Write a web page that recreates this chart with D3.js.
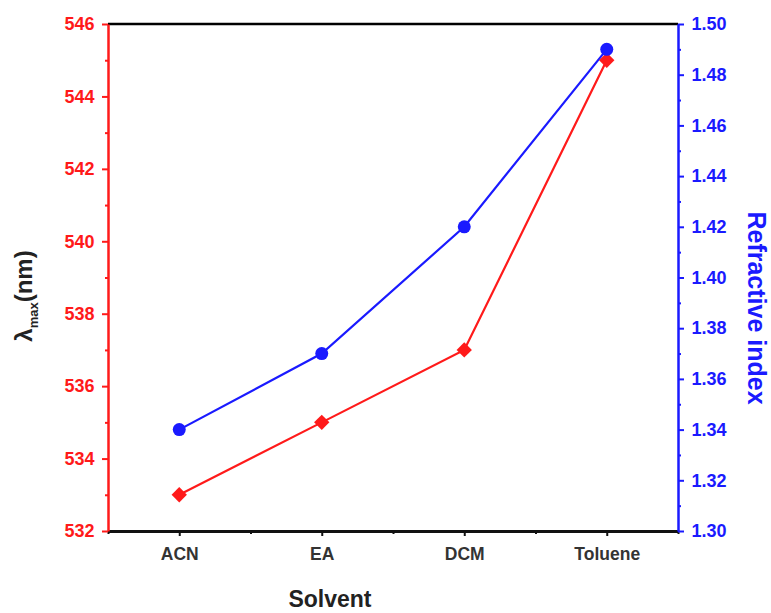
<!DOCTYPE html>
<html><head><meta charset="utf-8">
<script src="https://cdn.jsdelivr.net/npm/d3@7"></script>
<style>body{margin:0;background:#fff}svg{display:block;font-family:"Liberation Sans",Arial,sans-serif}</style>
</head><body><svg id="c" width="771" height="613"></svg>
<script>
const categories = ["ACN","EA","DCM","Toluene"];
const lambdaMax = [533, 535, 537, 545];
const refractive = [1.34, 1.37, 1.42, 1.49];
const leftTicks = [532,534,536,538,540,542,544,546];
const rightTicks = [1.30,1.32,1.34,1.36,1.38,1.40,1.42,1.44,1.46,1.48,1.50];

const RED = "#ff1a1a", BLUE = "#1a1aff";
const L = 108, R = 678, T = 24, B = 531;
const svg = d3.select("#c");
const x = d3.scaleLinear().domain([0.5, 4.5]).range([L, R]);
const yL = d3.scaleLinear().domain([532, 546]).range([B, T]);
const yR = d3.scaleLinear().domain([1.30, 1.50]).range([B, T]);

// top frame
svg.append("line").attr("x1",L).attr("x2",R).attr("y1",T).attr("y2",T).attr("stroke","#000").attr("stroke-width",2.5);

// bottom axis
const gx = svg.append("g").attr("transform",`translate(0,${B})`);
gx.call(d3.axisBottom(x).tickValues([1,2,3,4]).tickFormat(i=>categories[i-1]).tickSize(5).tickSizeOuter(0));
gx.select(".domain").attr("stroke","#111").attr("stroke-width",3);
gx.selectAll(".tick line").attr("stroke","#111").attr("stroke-width",2);
gx.selectAll(".tick text").attr("fill","#333").attr("font-size",17.5).attr("font-weight","bold").attr("y",29).attr("dy","0");
const gxm = svg.append("g").attr("transform",`translate(0,${B})`);
gxm.call(d3.axisBottom(x).tickValues([0.5,1.5,2.5,3.5,4.5]).tickFormat("").tickSize(3).tickSizeOuter(0));
gxm.select(".domain").remove();
gxm.selectAll(".tick line").attr("stroke","#111").attr("stroke-width",2);

// left axis
const gl = svg.append("g").attr("transform",`translate(${L},0)`);
gl.call(d3.axisLeft(yL).tickValues(leftTicks).tickFormat(d3.format("d")).tickSize(6).tickSizeOuter(0));
gl.select(".domain").attr("stroke",RED).attr("stroke-width",2.5);
gl.selectAll(".tick line").attr("stroke",RED).attr("stroke-width",2);
gl.selectAll(".tick text").attr("fill",RED).attr("font-size",18).attr("font-weight","bold").attr("dx","-0.25em");
const glm = svg.append("g").attr("transform",`translate(${L},0)`);
glm.call(d3.axisLeft(yL).tickValues(d3.range(533,546,2)).tickFormat("").tickSize(3).tickSizeOuter(0));
glm.select(".domain").remove();
glm.selectAll(".tick line").attr("stroke",RED).attr("stroke-width",2);

// right axis
const gr = svg.append("g").attr("transform",`translate(${R},0)`);
gr.call(d3.axisRight(yR).tickValues(rightTicks).tickFormat(d3.format(".2f")).tickSize(6).tickSizeOuter(0));
gr.select(".domain").attr("stroke",BLUE).attr("stroke-width",2.5);
gr.selectAll(".tick line").attr("stroke",BLUE).attr("stroke-width",2);
gr.selectAll(".tick text").attr("fill",BLUE).attr("font-size",18).attr("font-weight","bold").attr("dx","0.25em");
const grm = svg.append("g").attr("transform",`translate(${R},0)`);
grm.call(d3.axisRight(yR).tickValues(d3.range(10).map(i=>1.31+i*0.02)).tickFormat("").tickSize(3).tickSizeOuter(0));
grm.select(".domain").remove();
grm.selectAll(".tick line").attr("stroke",BLUE).attr("stroke-width",2);

// lines
const idx = categories.map((c,i)=>i+1);
svg.append("path").datum(idx).attr("fill","none").attr("stroke",RED).attr("stroke-width",2.2)
  .attr("d", d3.line().x(i=>x(i)).y(i=>yL(lambdaMax[i-1])));
svg.append("path").datum(idx).attr("fill","none").attr("stroke",BLUE).attr("stroke-width",2.2)
  .attr("d", d3.line().x(i=>x(i)).y(i=>yR(refractive[i-1])));

// markers
svg.selectAll(".dia").data(idx).join("path").attr("class","dia")
  .attr("transform",i=>`translate(${x(i)},${yL(lambdaMax[i-1])})`)
  .attr("d", d3.symbol().type(d3.symbolDiamond2).size(150)).attr("fill",RED);
svg.selectAll(".cir").data(idx).join("circle").attr("class","cir")
  .attr("cx",i=>x(i)).attr("cy",i=>yR(refractive[i-1])).attr("r",6.5).attr("fill",BLUE);

// titles
const lt = svg.append("text").attr("transform","translate(32,296) rotate(-90)").attr("text-anchor","middle")
  .attr("font-size",24).attr("font-weight","bold").attr("fill","#222");
lt.append("tspan").text("λ");
lt.append("tspan").text("max").attr("font-size",13).attr("dy",6);
lt.append("tspan").text("(nm)").attr("dy",-6);
svg.append("text").attr("transform","translate(748,308) rotate(90)").attr("text-anchor","middle")
  .attr("font-size",25).attr("font-weight","bold").attr("fill",BLUE).text("Refractive index");
svg.append("text").attr("x",330).attr("y",607).attr("text-anchor","middle")
  .attr("font-size",23).attr("font-weight","bold").attr("fill","#222").text("Solvent");
</script></body></html>
